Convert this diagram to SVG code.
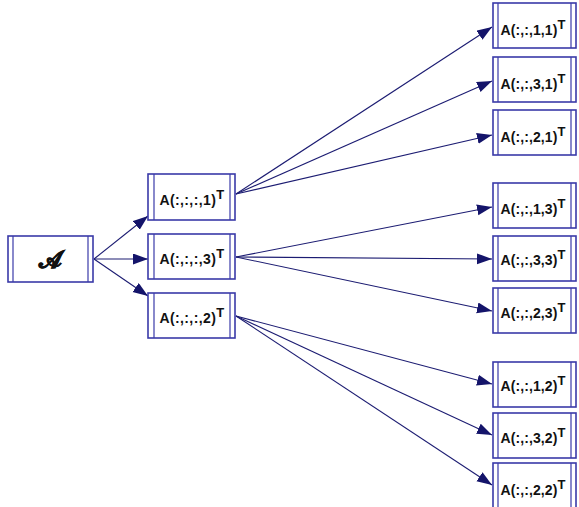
<svg xmlns="http://www.w3.org/2000/svg" width="579" height="507" viewBox="0 0 579 507">
<style>
.box{fill:#ffffff;stroke:#3a3aa8;stroke-width:1.6}
.in{stroke:#3a3aa8;stroke-width:1.2}
.lbl{font-family:"Liberation Sans",Arial,sans-serif;font-weight:bold;font-size:14px;letter-spacing:0.4px;fill:#111}
.rl{letter-spacing:0.1px}
.sup{font-size:13px}
.edge{stroke:#1c1c72;stroke-width:1.1;fill:none;marker-end:url(#ah)}
</style>
<defs>
<marker id="ah" markerWidth="16" markerHeight="12" refX="15" refY="5.5" orient="auto" markerUnits="userSpaceOnUse">
<path d="M0,0 L15,5.5 L0,11 Z" fill="#14146a"/>
</marker>
</defs>
<rect width="579" height="507" fill="#ffffff"/>
<g id="connectors">
<line class="edge" x1="94" y1="259" x2="148" y2="216"/>
<line class="edge" x1="94" y1="259" x2="148" y2="259"/>
<line class="edge" x1="94" y1="259" x2="148" y2="296"/>
<line class="edge" x1="236" y1="194" x2="492" y2="27"/>
<line class="edge" x1="236" y1="194" x2="492" y2="81"/>
<line class="edge" x1="236" y1="194" x2="492" y2="135"/>
<line class="edge" x1="236" y1="257" x2="492" y2="207"/>
<line class="edge" x1="236" y1="257" x2="492" y2="259"/>
<line class="edge" x1="236" y1="257" x2="492" y2="311"/>
<line class="edge" x1="236" y1="316" x2="492" y2="384"/>
<line class="edge" x1="236" y1="316" x2="492" y2="435"/>
<line class="edge" x1="236" y1="316" x2="492" y2="485"/>
</g>
<g id="nA">
<rect class="box" x="8" y="236" width="85" height="46"/>
<line class="in" x1="13" y1="236" x2="13" y2="282"/>
<line class="in" x1="88" y1="236" x2="88" y2="282"/>
<text x="50.5" y="268" text-anchor="middle" font-family="'DejaVu Serif','Noto Sans','Liberation Serif',serif" font-weight="bold" font-size="24" fill="#111" stroke="#111" stroke-width="0.8">𝒜</text>
</g>
<g id="m1">
<rect class="box" x="148" y="174" width="87" height="46"/>
<line class="in" x1="154" y1="174" x2="154" y2="220"/>
<line class="in" x1="230" y1="174" x2="230" y2="220"/>
<text class="lbl" x="192" y="205" text-anchor="middle">A(:,:,:,1)<tspan class="sup" dy="-6">T</tspan></text>
</g>
<g id="m3">
<rect class="box" x="148" y="234" width="87" height="45"/>
<line class="in" x1="154" y1="234" x2="154" y2="279"/>
<line class="in" x1="230" y1="234" x2="230" y2="279"/>
<text class="lbl" x="192" y="264" text-anchor="middle">A(:,:,:,3)<tspan class="sup" dy="-6">T</tspan></text>
</g>
<g id="m2">
<rect class="box" x="148" y="293" width="87" height="45"/>
<line class="in" x1="154" y1="293" x2="154" y2="338"/>
<line class="in" x1="230" y1="293" x2="230" y2="338"/>
<text class="lbl" x="192" y="323" text-anchor="middle">A(:,:,:,2)<tspan class="sup" dy="-6">T</tspan></text>
</g>
<g id="r11">
<rect class="box" x="493" y="3" width="83" height="45"/>
<line class="in" x1="498" y1="3" x2="498" y2="48"/>
<line class="in" x1="571" y1="3" x2="571" y2="48"/>
<text class="lbl rl" x="533" y="35" text-anchor="middle">A(:,:,1,1)<tspan class="sup" dy="-6">T</tspan></text>
</g>
<g id="r31">
<rect class="box" x="493" y="57" width="83" height="45"/>
<line class="in" x1="498" y1="57" x2="498" y2="102"/>
<line class="in" x1="571" y1="57" x2="571" y2="102"/>
<text class="lbl rl" x="533" y="89" text-anchor="middle">A(:,:,3,1)<tspan class="sup" dy="-6">T</tspan></text>
</g>
<g id="r21">
<rect class="box" x="493" y="110" width="83" height="45"/>
<line class="in" x1="498" y1="110" x2="498" y2="155"/>
<line class="in" x1="571" y1="110" x2="571" y2="155"/>
<text class="lbl rl" x="533" y="142" text-anchor="middle">A(:,:,2,1)<tspan class="sup" dy="-6">T</tspan></text>
</g>
<g id="r13">
<rect class="box" x="493" y="183" width="83" height="45"/>
<line class="in" x1="498" y1="183" x2="498" y2="228"/>
<line class="in" x1="571" y1="183" x2="571" y2="228"/>
<text class="lbl rl" x="533" y="214" text-anchor="middle">A(:,:,1,3)<tspan class="sup" dy="-6">T</tspan></text>
</g>
<g id="r33">
<rect class="box" x="493" y="236" width="83" height="45"/>
<line class="in" x1="498" y1="236" x2="498" y2="281"/>
<line class="in" x1="571" y1="236" x2="571" y2="281"/>
<text class="lbl rl" x="533" y="265" text-anchor="middle">A(:,:,3,3)<tspan class="sup" dy="-6">T</tspan></text>
</g>
<g id="r23">
<rect class="box" x="493" y="288" width="83" height="45"/>
<line class="in" x1="498" y1="288" x2="498" y2="333"/>
<line class="in" x1="571" y1="288" x2="571" y2="333"/>
<text class="lbl rl" x="533" y="318" text-anchor="middle">A(:,:,2,3)<tspan class="sup" dy="-6">T</tspan></text>
</g>
<g id="r12">
<rect class="box" x="493" y="362" width="83" height="45"/>
<line class="in" x1="498" y1="362" x2="498" y2="407"/>
<line class="in" x1="571" y1="362" x2="571" y2="407"/>
<text class="lbl rl" x="533" y="391" text-anchor="middle">A(:,:,1,2)<tspan class="sup" dy="-6">T</tspan></text>
</g>
<g id="r32">
<rect class="box" x="493" y="413" width="83" height="45"/>
<line class="in" x1="498" y1="413" x2="498" y2="458"/>
<line class="in" x1="571" y1="413" x2="571" y2="458"/>
<text class="lbl rl" x="533" y="443" text-anchor="middle">A(:,:,3,2)<tspan class="sup" dy="-6">T</tspan></text>
</g>
<g id="r22">
<rect class="box" x="493" y="463" width="83" height="45"/>
<line class="in" x1="498" y1="463" x2="498" y2="508"/>
<line class="in" x1="571" y1="463" x2="571" y2="508"/>
<text class="lbl rl" x="533" y="495" text-anchor="middle">A(:,:,2,2)<tspan class="sup" dy="-6">T</tspan></text>
</g>
</svg>
